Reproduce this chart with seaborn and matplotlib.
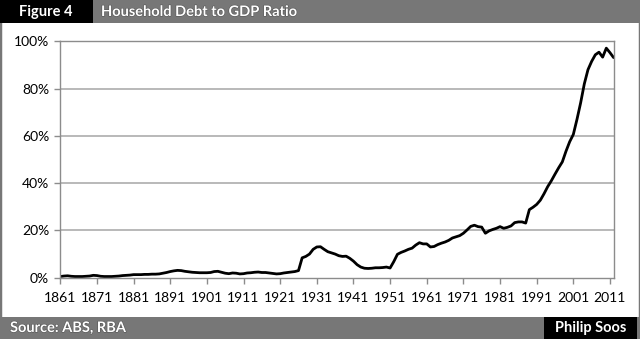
import matplotlib
matplotlib.use("Agg")
import matplotlib.pyplot as plt
import matplotlib.patches as mpatches
import matplotlib.patheffects as pe
import numpy as np
import pandas as pd
import seaborn as sns

years = list(range(1861, 2013))
ratio_pct = [
    0.5, 0.7, 0.8, 0.6, 0.5, 0.5, 0.5, 0.6, 0.7, 1.0,   # 1861-1870
    0.9, 0.6, 0.5, 0.5, 0.5, 0.6, 0.7, 0.9, 1.0, 1.1,   # 1871-1880
    1.3, 1.3, 1.3, 1.4, 1.4, 1.5, 1.5, 1.6, 1.9, 2.2,   # 1881-1890
    2.6, 2.9, 3.1, 3.0, 2.7, 2.5, 2.3, 2.2, 2.1, 2.1,   # 1891-1900
    2.1, 2.2, 2.6, 2.7, 2.3, 1.9, 1.7, 2.0, 1.9, 1.6,   # 1901-1910
    1.7, 2.0, 2.1, 2.3, 2.4, 2.2, 2.2, 2.0, 1.8, 1.6,   # 1911-1920
    1.7, 2.0, 2.2, 2.4, 2.6, 3.0, 8.4, 9.0, 10.0, 12.0, # 1921-1930
    13.0, 13.1, 12.0, 11.0, 10.5, 10.0, 9.3, 9.0, 9.1, 8.2,  # 1931-1940
    7.0, 5.5, 4.5, 4.0, 3.9, 4.0, 4.2, 4.2, 4.3, 4.5,   # 1941-1950
    4.1, 6.8, 9.9, 10.7, 11.3, 12.0, 12.5, 13.8, 14.8, 14.3,  # 1951-1960
    14.3, 13.0, 13.2, 14.0, 14.6, 15.1, 15.8, 16.8, 17.3, 17.8,  # 1961-1970
    18.8, 20.2, 21.7, 22.2, 21.6, 21.4, 18.8, 19.8, 20.4, 20.9,  # 1971-1980
    21.6, 20.9, 21.3, 21.9, 23.3, 23.6, 23.6, 23.1, 28.8, 29.8,  # 1981-1990
    31.0, 32.8, 35.5, 38.5, 41.0, 43.8, 46.5, 49.0, 53.5, 57.5,  # 1991-2000
    60.6, 67.0, 74.0, 82.0, 88.0, 91.5, 94.3, 95.4, 93.3, 97.1,  # 2001-2010
    95.2, 93.1,                                                  # 2011-2012
]
tick_years = list(range(1861, 2012, 10))
tick_labels = [str(y) for y in tick_years]
y_ticks = [0, 20, 40, 60, 80, 100]
y_labels = [f"{v}%" for v in y_ticks]
header_left = "Figure 4"
header_title = "Household Debt to GDP Ratio"
footer_left = "Source: ABS, RBA"
footer_right = "Philip Soos"

df = pd.DataFrame({"year": years, "ratio": ratio_pct})

sns.set_theme(style="white")
plt.rcParams["font.family"] = ["Lato", "DejaVu Sans"]

W, H = 640, 339
fig = plt.figure(figsize=(W / 100, H / 100), dpi=100)
fig.patch.set_facecolor("white")

def fx(px):
    return px / W

def fy(py):
    return 1 - py / H

ax = fig.add_axes([fx(60.3), fy(277.7), fx(614) - fx(60.3), fy(41.3) - fy(277.7)])
sns.lineplot(data=df, x="year", y="ratio", ax=ax, color="black", linewidth=2.0, legend=False)
ax.set_xlim(1861, 2012.1)
ax.set_ylim(0, 100)
ax.set_xticks(tick_years)
ax.set_xticklabels(tick_labels)
ax.set_yticks(y_ticks)
ax.set_yticklabels(y_labels)
ax.set_xlabel("")
ax.set_ylabel("")
for v in y_ticks[1:-1]:
    ax.axhline(v, color="#b3b3b3", linewidth=1.3, zorder=0)
for s in ax.spines.values():
    s.set_color("#8c8c8c")
    s.set_linewidth(1.0)
    s.set_visible(True)
ax.tick_params(axis="both", which="both", direction="out", length=4, width=1.0,
               color="#8c8c8c", labelsize=10, labelcolor="black")
ax.tick_params(axis="y", pad=4)
ax.tick_params(axis="x", pad=6)
ax.tick_params(bottom=True, left=True)

# frame
fig.add_artist(mpatches.Rectangle((0, 0), 1, 1, transform=fig.transFigure,
                                  fill=False, edgecolor="#777777", linewidth=2.5))
# header
hdr_h = 23
fig.add_artist(mpatches.Rectangle((0, fy(hdr_h)), 1, hdr_h / H, transform=fig.transFigure,
                                  facecolor="#777777", edgecolor="none"))
fig.add_artist(mpatches.Rectangle((0, fy(hdr_h)), fx(93), hdr_h / H, transform=fig.transFigure,
                                  facecolor="black", edgecolor="none"))
fig.text(fx(46), fy(hdr_h / 2 + 0.5), header_left, color="white", fontsize=10.5,
         fontweight="bold", ha="center", va="center")
fig.text(fx(101), fy(hdr_h / 2 + 0.5), header_title, color="white", fontsize=10.5,
         fontweight="bold", ha="left", va="center",
         path_effects=[pe.withStroke(linewidth=0.8, foreground="#555555")])

# footer
ftr_top = 317
fig.add_artist(mpatches.Rectangle((0, 0), 1, fy(ftr_top), transform=fig.transFigure,
                                  facecolor="#777777", edgecolor="none"))
fig.add_artist(mpatches.Rectangle((fx(544), 0), fx(637) - fx(544), fy(ftr_top), transform=fig.transFigure,
                                  facecolor="black", edgecolor="none"))
fig.text(fx(10), fy((ftr_top + H) / 2), footer_left, color="white", fontsize=10.5,
         fontweight="bold", ha="left", va="center",
         path_effects=[pe.withStroke(linewidth=0.8, foreground="#555555")])
fig.text(fx(590.5), fy((ftr_top + H) / 2), footer_right, color="white", fontsize=10.5,
         fontweight="bold", ha="center", va="center")

fig.savefig("out.png", dpi=100, facecolor="white")
